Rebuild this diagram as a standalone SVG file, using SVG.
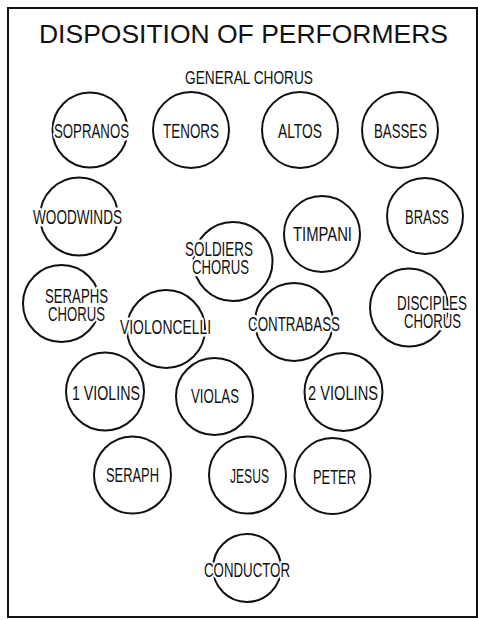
<svg xmlns="http://www.w3.org/2000/svg" width="478" height="620" viewBox="0 0 478 620">
<style>
.bg{fill:#fff}
.frame{fill:none;stroke:#111;stroke-width:2}
.c{fill:none;stroke:#111;stroke-width:2}
.t{font-family:"Liberation Sans",Arial,sans-serif;font-size:20px;fill:#111;text-anchor:middle;stroke:#fff;stroke-width:5px;paint-order:stroke;stroke-linejoin:round}
.title{font-family:"Liberation Sans",Arial,sans-serif;font-size:25px;fill:#111;text-anchor:middle}
.sub{font-family:"Liberation Sans",Arial,sans-serif;font-size:18.5px;fill:#111;text-anchor:middle}
</style>
<rect class="bg" x="0" y="0" width="478" height="620"/>
<rect class="frame" x="8" y="8" width="469" height="609"/>
<text class="title" x="243.5" y="43" textLength="409" lengthAdjust="spacingAndGlyphs">DISPOSITION OF PERFORMERS</text>
<text class="sub" x="249" y="84" textLength="128" lengthAdjust="spacingAndGlyphs">GENERAL CHORUS</text>
<g id="connectors"></g>
<g id="sopranos"><circle class="c" cx="90" cy="130" r="37.5"/><text class="t" x="91.5" y="138" textLength="75" lengthAdjust="spacingAndGlyphs">SOPRANOS</text></g>
<g id="tenors"><circle class="c" cx="191" cy="130" r="38"/><text class="t" x="191" y="138" textLength="56" lengthAdjust="spacingAndGlyphs">TENORS</text></g>
<g id="altos"><circle class="c" cx="300" cy="130" r="38"/><text class="t" x="300" y="138" textLength="44" lengthAdjust="spacingAndGlyphs">ALTOS</text></g>
<g id="basses"><circle class="c" cx="400" cy="130" r="38"/><text class="t" x="400.5" y="138" textLength="53" lengthAdjust="spacingAndGlyphs">BASSES</text></g>
<g id="woodwinds"><circle class="c" cx="79" cy="216.5" r="39"/><text class="t" x="77.5" y="224" textLength="89" lengthAdjust="spacingAndGlyphs">WOODWINDS</text></g>
<g id="brass"><circle class="c" cx="425" cy="216" r="38"/><text class="t" x="427" y="224" textLength="44" lengthAdjust="spacingAndGlyphs">BRASS</text></g>
<g id="timpani"><circle class="c" cx="322" cy="234" r="38"/><text class="t" x="322.5" y="241" textLength="59" lengthAdjust="spacingAndGlyphs">TIMPANI</text></g>
<g id="soldiers-chorus"><circle class="c" cx="233" cy="261.5" r="39.5"/><text class="t" x="219" y="256" textLength="68" lengthAdjust="spacingAndGlyphs">SOLDIERS</text><text class="t" x="220.5" y="274" textLength="57" lengthAdjust="spacingAndGlyphs">CHORUS</text></g>
<g id="seraphs-chorus"><circle class="c" cx="61.5" cy="303.5" r="38.5"/><text class="t" x="76.5" y="303" textLength="63" lengthAdjust="spacingAndGlyphs">SERAPHS</text><text class="t" x="76.5" y="321" textLength="57" lengthAdjust="spacingAndGlyphs">CHORUS</text></g>
<g id="violoncelli"><circle class="c" cx="166" cy="329" r="39"/><text class="t" x="165.5" y="334" textLength="91" lengthAdjust="spacingAndGlyphs">VIOLONCELLI</text></g>
<g id="contrabass"><circle class="c" cx="294" cy="322" r="39"/><text class="t" x="294" y="331" textLength="92" lengthAdjust="spacingAndGlyphs">CONTRABASS</text></g>
<g id="disciples-chorus"><circle class="c" cx="409" cy="307.5" r="39"/><text class="t" x="432" y="310" textLength="70" lengthAdjust="spacingAndGlyphs">DISCIPLES</text><text class="t" x="432.5" y="328" textLength="57" lengthAdjust="spacingAndGlyphs">CHORUS</text></g>
<g id="violins-1"><circle class="c" cx="105" cy="391.5" r="39"/><text class="t" x="106" y="400" textLength="68" lengthAdjust="spacingAndGlyphs">1 VIOLINS</text></g>
<g id="violas"><circle class="c" cx="214.5" cy="396.5" r="38.5"/><text class="t" x="215" y="403" textLength="48" lengthAdjust="spacingAndGlyphs">VIOLAS</text></g>
<g id="violins-2"><circle class="c" cx="343.5" cy="392" r="39"/><text class="t" x="343" y="400" textLength="70" lengthAdjust="spacingAndGlyphs">2 VIOLINS</text></g>
<g id="seraph"><circle class="c" cx="132.5" cy="475" r="38.5"/><text class="t" x="132.5" y="482" textLength="53" lengthAdjust="spacingAndGlyphs">SERAPH</text></g>
<g id="jesus"><circle class="c" cx="247.5" cy="475" r="38.5"/><text class="t" x="249.5" y="483" textLength="39" lengthAdjust="spacingAndGlyphs">JESUS</text></g>
<g id="peter"><circle class="c" cx="332.5" cy="476" r="38"/><text class="t" x="334.5" y="484" textLength="43" lengthAdjust="spacingAndGlyphs">PETER</text></g>
<g id="conductor"><circle class="c" cx="247" cy="568" r="34"/><text class="t" x="247" y="577" textLength="86" lengthAdjust="spacingAndGlyphs">CONDUCTOR</text></g>
</svg>
